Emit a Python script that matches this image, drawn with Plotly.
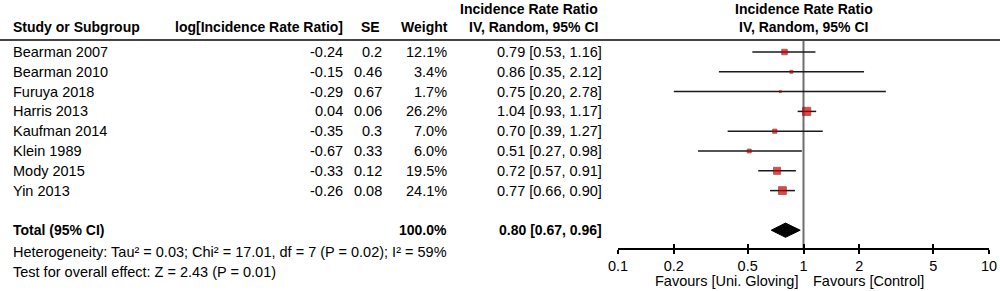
import math
import plotly.graph_objects as go

# ---------------- data ----------------
studies = ["Bearman 2007", "Bearman 2010", "Furuya 2018", "Harris 2013",
           "Kaufman 2014", "Klein 1989", "Mody 2015", "Yin 2013"]
log_irr = [-0.24, -0.15, -0.29, 0.04, -0.35, -0.67, -0.33, -0.26]
se = [0.2, 0.46, 0.67, 0.06, 0.3, 0.33, 0.12, 0.08]
weight = [12.1, 3.4, 1.7, 26.2, 7.0, 6.0, 19.5, 24.1]
irr = [0.79, 0.86, 0.75, 1.04, 0.70, 0.51, 0.72, 0.77]
ci_low = [0.53, 0.35, 0.20, 0.93, 0.39, 0.27, 0.57, 0.66]
ci_high = [1.16, 2.12, 2.78, 1.17, 1.27, 0.98, 0.91, 0.90]

total_label = "Total (95% CI)"
total_weight = 100.0
total_irr = 0.80
total_low = 0.67
total_high = 0.96

heterogeneity = "Heterogeneity: Tau² = 0.03; Chi² = 17.01, df = 7 (P = 0.02); I² = 59%"
overall_test = "Test for overall effect: Z = 2.43 (P = 0.01)"

tick_vals = [0.1, 0.2, 0.5, 1, 2, 5, 10]
tick_text = ["0.1", "0.2", "0.5", "1", "2", "5", "10"]
favours_left = "Favours [Uni. Gloving]"
favours_right = "Favours [Control]"

headers = ["Study or Subgroup", "log[Incidence Rate Ratio]", "SE", "Weight"]
ci_header = ["Incidence Rate Ratio", "IV, Random, 95% CI"]

# ---------------- layout geometry ----------------
W, H = 1000, 291
ROW0, GAP = 52.0, 19.8
TOTAL_ROW = 9
FONT = "Arial, Liberation Sans, sans-serif"
FS = 14
FS_REG = 14.5


def row_of(px):
    return (px - ROW0) / GAP


def py(px):
    return 1 - px / H


def fmt_ci(m, lo, hi):
    return f"{m:.2f} [{lo:.2f}, {hi:.2f}]"


fig = go.Figure()

# vertical line of no effect
fig.add_trace(go.Scatter(x=[1, 1], y=[row_of(40), row_of(249)], mode="lines",
                         line=dict(color="#6e6e6e", width=2), hoverinfo="skip",
                         showlegend=False))

# confidence intervals
xs, ys = [], []
for i, (lo, hi) in enumerate(zip(ci_low, ci_high)):
    xs += [lo, hi, None]
    ys += [i, i, None]
fig.add_trace(go.Scatter(x=xs, y=ys, mode="lines",
                         line=dict(color="#1a1a1a", width=1.5),
                         hoverinfo="skip", showlegend=False))

# weight squares
fig.add_trace(go.Scatter(
    x=irr, y=list(range(len(studies))), mode="markers",
    marker=dict(symbol="square", size=[1.6 * math.sqrt(w) for w in weight],
                color="#cc0000", line=dict(color="#8b0000", width=0.8)),
    hoverinfo="skip", showlegend=False))

# pooled diamond
dh = 0.36
fig.add_trace(go.Scatter(
    x=[total_low, total_irr, total_high, total_irr, total_low],
    y=[TOTAL_ROW, TOTAL_ROW - dh, TOTAL_ROW, TOTAL_ROW + dh, TOTAL_ROW],
    mode="lines", fill="toself", fillcolor="black",
    line=dict(color="black", width=1), hoverinfo="skip", showlegend=False))

# invisible trace for the overlay tick axis
fig.add_trace(go.Scatter(x=[1], y=[0], xaxis="x2", mode="markers",
                         marker=dict(opacity=0), hoverinfo="skip", showlegend=False))

ann = []


def text(x, y, s, anchor, bold=False, yref="y", xref="paper", xshift=0):
    ann.append(dict(x=x, y=y, xref=xref, yref=yref, text=f"<b>{s}</b>" if bold else s,
                    showarrow=False, xanchor=anchor, yanchor="middle", xshift=xshift,
                    font=dict(family=FONT, size=FS if bold else FS_REG, color="black")))


# headers
hy2 = py(27)
hy1 = py(9)
text(11 / W, hy2, headers[0], "left", True, "paper")
text(345 / W, hy2, headers[1], "right", True, "paper")
text(382 / W, hy2, headers[2], "right", True, "paper")
text(450 / W, hy2, headers[3], "right", True, "paper")
text(600 / W, hy1, ci_header[0], "right", True, "paper")
text(600 / W, hy2, ci_header[1], "right", True, "paper")
text(803.5 / W, hy1, ci_header[0], "center", True, "paper")
text(803.5 / W, hy2, ci_header[1], "center", True, "paper")

# study rows
for i, name in enumerate(studies):
    text(11 / W, i, name, "left")
    text(345 / W, i, str(log_irr[i]), "right")
    text(384 / W, i, str(se[i]), "right")
    text(449 / W, i, f"{weight[i]:.1f}%", "right")
    text(604 / W, i, fmt_ci(irr[i], ci_low[i], ci_high[i]), "right")

# total row
text(11 / W, TOTAL_ROW, total_label, "left", True)
text(449 / W, TOTAL_ROW, f"{total_weight:.1f}%", "right", True)
text(604 / W, TOTAL_ROW, fmt_ci(total_irr, total_low, total_high), "right", True)

text(11 / W, py(252), heterogeneity, "left", yref="paper")
text(11 / W, py(272), overall_test, "left", yref="paper")

# favours labels
text(0, py(281), favours_left, "right", yref="paper", xref="x", xshift=-4)
text(0, py(281), favours_right, "left", yref="paper", xref="x", xshift=7)

axis_common = dict(type="log", range=[-1, 1], domain=[0.618, 0.989],
                   anchor="free", position=py(249), showgrid=False, zeroline=False,
                   tickvals=tick_vals, fixedrange=True, automargin=False)

fig.update_layout(
    width=W, height=H,
    margin=dict(l=0, r=0, t=0, b=0, pad=0, autoexpand=False),
    paper_bgcolor="white", plot_bgcolor="white",
    xaxis=dict(**axis_common, ticktext=tick_text, showline=True, linecolor="black",
               linewidth=1.5, ticks="outside", ticklen=4, tickwidth=1.5,
               tickcolor="black",
               tickfont=dict(family=FONT, size=FS_REG, color="black")),
    xaxis2=dict(**axis_common, overlaying="x", showline=False, ticks="inside",
                ticklen=5, tickwidth=1.5, tickcolor="black", showticklabels=False),
    yaxis=dict(range=[row_of(H), row_of(0)], visible=False, domain=[0, 1],
               fixedrange=True, automargin=False),
    annotations=ann,
    shapes=[dict(type="line", xref="paper", yref="paper", x0=0, x1=1,
                 y0=py(40), y1=py(40), line=dict(color="#444444", width=1.8))],
    showlegend=False,
)

fig.write_html("out.html", config={"displayModeBar": False},
               post_script="document.body.style.margin='0';"
                           "document.body.style.overflow='hidden';")
